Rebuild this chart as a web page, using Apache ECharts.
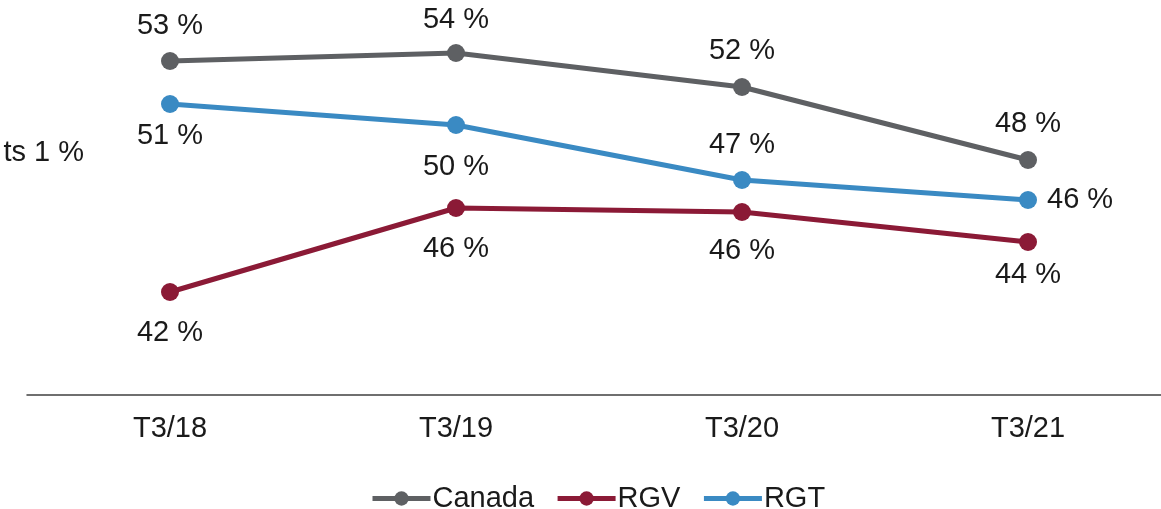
<!DOCTYPE html>
<html>
<head>
<meta charset="utf-8">
<script src="https://cdn.jsdelivr.net/npm/echarts@6/dist/echarts.min.js"></script>
<style>html,body{margin:0;padding:0;background:#fff;}#c{width:1161px;height:509px;}</style>
</head>
<body>
<div id="c"></div>
<script>
const categories = ['T3/18', 'T3/19', 'T3/20', 'T3/21'];
const canada = [53.2, 53.6, 51.9, 48.25];
const rgv = [41.65, 45.85, 45.65, 44.15];
const rgt = [51.05, 50.0, 47.25, 46.25];
const seriesNames = ['Canada', 'RGV', 'RGT'];
const sideText = 'ts 1 %';

const FONT = '"Liberation Sans", Arial, sans-serif';
const FS = 29;

// label placement per point (style only)
const canadaLbl = [['top', 12], ['top', 10], ['top', 13], ['top', 13]];
const rgvLbl = [['bottom', 17], ['bottom', 17], ['bottom', 15], ['bottom', 9]];
const rgtLbl = [['bottom', 8], ['bottom', 18], ['top', 12], ['right', 10]];

function mk(vals, lbl) {
  return vals.map((v, i) => ({
    value: v,
    label: { position: lbl[i][0], distance: lbl[i][1] }
  }));
}

function series(name, vals, lbl, color) {
  return {
    name: name,
    type: 'line',
    data: mk(vals, lbl),
    symbol: 'circle',
    symbolSize: 18,
    lineStyle: { color: color, width: 5 },
    itemStyle: { color: color },
    label: {
      show: true,
      fontFamily: FONT,
      fontSize: FS,
      color: '#1a1a1a',
      formatter: p => Math.round(p.value) + ' %'
    },
    emphasis: { disabled: true },
    animation: false
  };
}

const chart = echarts.init(document.getElementById('c'));
chart.setOption({
  backgroundColor: '#fff',
  textStyle: { fontFamily: FONT },
  grid: { left: 27, width: 1144, top: 0, height: 395, outerBoundsMode: 'none', containLabel: false },
  xAxis: {
    type: 'category',
    data: categories,
    boundaryGap: true,
    axisLine: { lineStyle: { color: '#404040', width: 1.5 } },
    axisTick: { show: false },
    axisLabel: { fontFamily: FONT, fontSize: FS, color: '#1a1a1a', margin: 19 }
  },
  yAxis: {
    type: 'value',
    min: 36.5,
    max: 56.25,
    show: false,
    splitLine: { show: false }
  },
  legend: {
    data: seriesNames,
    left: 365,
    top: 479,
    itemWidth: 58,
    itemHeight: 18,
    itemGap: 21,
    lineStyle: { width: 5 },
    textStyle: { fontFamily: FONT, fontSize: FS, color: '#1a1a1a', padding: [0, 0, 0, -3] }
  },
  graphic: [{
    type: 'text',
    right: 1161 - 84,
    top: 138,
    style: { text: sideText, font: FS + 'px ' + FONT, fill: '#1a1a1a' }
  }],
  series: [
    series(seriesNames[0], canada, canadaLbl, '#5e6063'),
    series(seriesNames[1], rgv, rgvLbl, '#8b1a36'),
    series(seriesNames[2], rgt, rgtLbl, '#3a8ac3')
  ]
});
</script>
</body>
</html>
